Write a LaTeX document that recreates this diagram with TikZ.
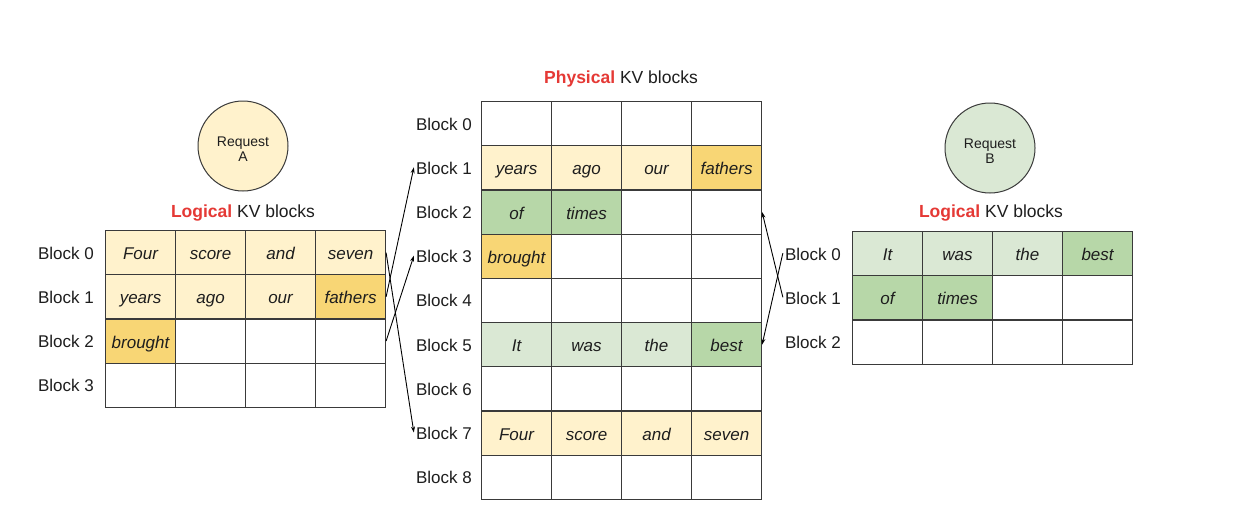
\documentclass[tikz,border=0pt]{standalone}
\usepackage{fontspec}
\setmainfont{Liberation Sans}
\usetikzlibrary{arrows.meta}
\definecolor{ly}{HTML}{FFF2CC}
\definecolor{dy}{HTML}{F8D675}
\definecolor{lg}{HTML}{DAE8D4}
\definecolor{dg}{HTML}{B7D7A8}
\definecolor{lineC}{HTML}{3A3A3A}
\definecolor{txt}{HTML}{1E1E1E}
\definecolor{redT}{HTML}{E53935}
\begin{document}
\begin{tikzpicture}[x=1pt,y=-1pt,
  cell/.style={draw=lineC, line width=1.1pt, minimum width=70pt, minimum height=44.2pt,
    inner sep=0pt, anchor=north west, text=txt, text height=14pt, text depth=0pt,
    font=\fontsize{17}{20}\selectfont\itshape},
  blab/.style={anchor=east, inner sep=2pt, text=txt, text height=14pt, text depth=0pt,
    font=\fontsize{17}{20}\selectfont},
  title/.style={text=txt, font=\fontsize{17.5}{21}\selectfont},
  req/.style={circle, draw=lineC, line width=1pt, minimum size=90pt, inner sep=0pt,
    align=center, text=txt, font=\fontsize{14}{15}\selectfont},
  arr/.style={draw=black, line width=0.9pt, -{Stealth[length=6pt,width=4pt]}}]
\useasboundingbox (0,0) rectangle (1233,530);
\fill[white] (0,0) rectangle (1233,530);

% ---------- Request circles ----------
\node[req, fill=ly] (reqA) at (243,146) {\rule{0pt}{16pt}Request\\A};
\node[req, fill=lg] (reqB) at (990,148) {\rule{0pt}{16pt}Request\\B};

% ---------- titles ----------
\node[title] (titleL) at (243,213) {\textcolor{redT}{\textbf{Logical}} KV blocks};
\node[title] (titleP) at (621,79) {\textcolor{redT}{\textbf{Physical}} KV blocks};
\node[title] (titleR) at (991,213) {\textcolor{redT}{\textbf{Logical}} KV blocks};

% ---------- Left logical table (Request A) ----------
\foreach \c/\f/\t in {0/ly/Four,1/ly/score,2/ly/and,3/ly/seven}
  \node[cell,fill=\f] (L-0-\c) at ({105+70*\c},230) {\t};
\foreach \c/\f/\t in {0/ly/years,1/ly/ago,2/ly/our,3/dy/fathers}
  \node[cell,fill=\f] (L-1-\c) at ({105+70*\c},274.2) {\t};
\foreach \c/\f/\t in {0/dy/brought,1/white/,2/white/,3/white/}
  \node[cell,fill=\f] (L-2-\c) at ({105+70*\c},318.4) {\t};
\foreach \c in {0,1,2,3}
  \node[cell,fill=white] (L-3-\c) at ({105+70*\c},362.6) {};
\foreach \r in {0,1,2,3}
  \node[blab] (LB-\r) at (96,{230+44.2*\r+22.1}) {Block \r};

% ---------- Physical table ----------
\foreach \c in {0,1,2,3}
  \node[cell,fill=white] (P-0-\c) at ({481+70*\c},101) {};
\foreach \c/\f/\t in {0/ly/years,1/ly/ago,2/ly/our,3/dy/fathers}
  \node[cell,fill=\f] (P-1-\c) at ({481+70*\c},145.2) {\t};
\foreach \c/\f/\t in {0/dg/of,1/dg/times,2/white/,3/white/}
  \node[cell,fill=\f] (P-2-\c) at ({481+70*\c},189.4) {\t};
\foreach \c/\f/\t in {0/dy/brought,1/white/,2/white/,3/white/}
  \node[cell,fill=\f] (P-3-\c) at ({481+70*\c},233.6) {\t};
\foreach \c in {0,1,2,3}
  \node[cell,fill=white] (P-4-\c) at ({481+70*\c},277.8) {};
\foreach \c/\f/\t in {0/lg/It,1/lg/was,2/lg/the,3/dg/best}
  \node[cell,fill=\f] (P-5-\c) at ({481+70*\c},322) {\t};
\foreach \c in {0,1,2,3}
  \node[cell,fill=white] (P-6-\c) at ({481+70*\c},366.2) {};
\foreach \c/\f/\t in {0/ly/Four,1/ly/score,2/ly/and,3/ly/seven}
  \node[cell,fill=\f] (P-7-\c) at ({481+70*\c},410.4) {\t};
\foreach \c in {0,1,2,3}
  \node[cell,fill=white] (P-8-\c) at ({481+70*\c},454.6) {};
\foreach \r in {0,...,8}
  \node[blab] (PB-\r) at (474,{101+44.2*\r+22.1}) {Block \r};

% ---------- Right logical table (Request B) ----------
\foreach \c/\f/\t in {0/lg/It,1/lg/was,2/lg/the,3/dg/best}
  \node[cell,fill=\f] (R-0-\c) at ({852+70*\c},231) {\t};
\foreach \c/\f/\t in {0/dg/of,1/dg/times,2/white/,3/white/}
  \node[cell,fill=\f] (R-1-\c) at ({852+70*\c},275.2) {\t};
\foreach \c in {0,1,2,3}
  \node[cell,fill=white] (R-2-\c) at ({852+70*\c},319.4) {};
\foreach \r in {0,1,2}
  \node[blab] (RB-\r) at (843,{231+44.2*\r+22.1}) {Block \r};

% ---------- mapping arrows ----------
\draw[arr] (L-0-3.east) -- (PB-7.west);
\draw[arr] (L-1-3.east) -- (PB-1.west);
\draw[arr] (L-2-3.east) -- (PB-3.west);
\draw[arr] (RB-0.west) -- (P-5-3.east);
\draw[arr] (RB-1.west) -- (P-2-3.east);
\end{tikzpicture}
\end{document}
